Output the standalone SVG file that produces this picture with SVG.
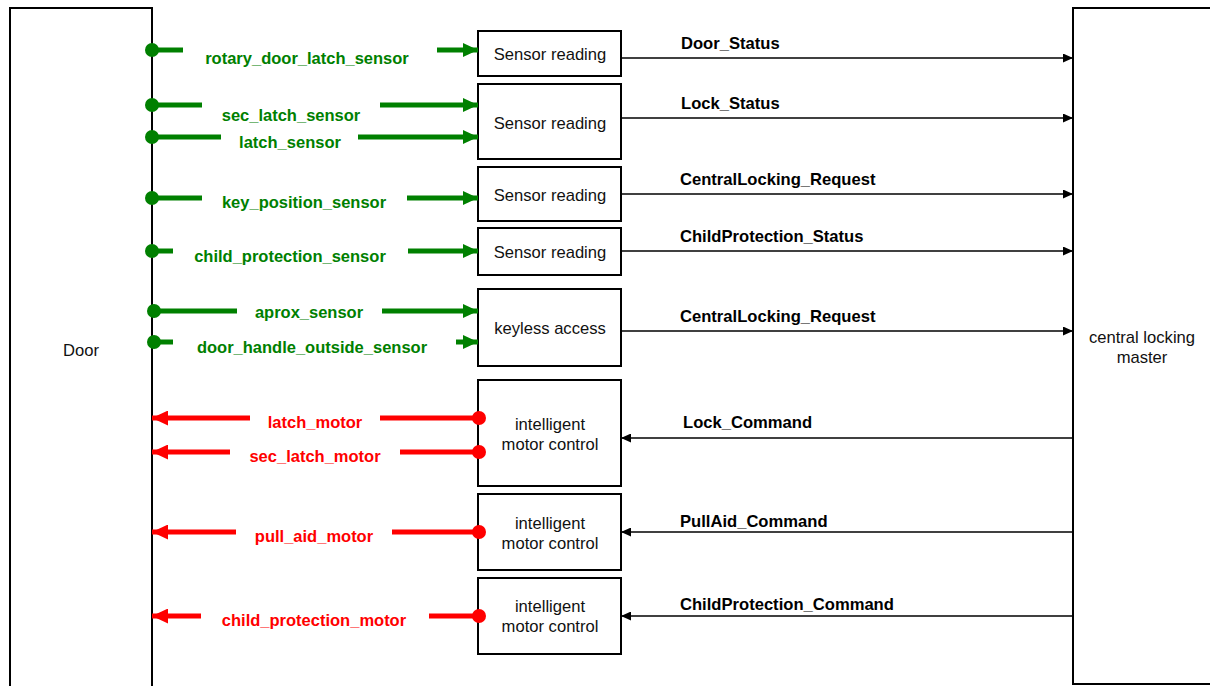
<svg xmlns="http://www.w3.org/2000/svg" width="1210" height="686" viewBox="0 0 1210 686">
<style>
.box{fill:#fff;stroke:#000;stroke-width:2}
.bt{font-family:"Liberation Sans",Arial,sans-serif;font-size:16.6px;fill:#111;text-anchor:middle}
.g{stroke:#008000;stroke-width:5;fill:none}
.r{stroke:#ff0000;stroke-width:5;fill:none}
.k{stroke:#000;stroke-width:1.6;fill:none}
.gl{font-family:"Liberation Sans",Arial,sans-serif;font-size:16.5px;font-weight:bold;fill:#008000;text-anchor:middle}
.rl{font-family:"Liberation Sans",Arial,sans-serif;font-size:16.5px;font-weight:bold;fill:#ff0000;text-anchor:middle}
.kl{font-family:"Liberation Sans",Arial,sans-serif;font-size:16.6px;font-weight:bold;fill:#000}
.gd{fill:#008000}
.rd{fill:#ff0000}
</style>
<defs>
<marker id="ag" markerUnits="userSpaceOnUse" markerWidth="15" markerHeight="14" refX="15" refY="7" orient="auto"><path d="M0,0 L15,7 L0,14 z" fill="#008000"/></marker>
<marker id="ar" markerUnits="userSpaceOnUse" markerWidth="16" markerHeight="15" refX="16" refY="7.5" orient="auto"><path d="M0,0 L16,7.5 L0,15 z" fill="#ff0000"/></marker>
<marker id="ak" markerUnits="userSpaceOnUse" markerWidth="10" markerHeight="9" refX="10" refY="4.5" orient="auto"><path d="M0,0 L10,4.5 L0,9 z" fill="#000"/></marker>
</defs>

<g id="door"><rect class="box" x="10" y="8" width="142" height="690"/><text class="bt" x="81" y="356">Door</text></g>
<g id="master"><rect class="box" x="1073" y="8" width="150" height="676"/><text class="bt" x="1142" y="343">central locking</text><text class="bt" x="1142" y="363">master</text></g>

<g id="sr1"><rect class="box" x="478" y="31" width="143" height="45"/><text class="bt" x="550" y="60">Sensor reading</text></g>
<g id="sr2"><rect class="box" x="478" y="84" width="143" height="75"/><text class="bt" x="550" y="129">Sensor reading</text></g>
<g id="sr3"><rect class="box" x="478" y="167" width="143" height="54"/><text class="bt" x="550" y="201">Sensor reading</text></g>
<g id="sr4"><rect class="box" x="478" y="228" width="143" height="47"/><text class="bt" x="550" y="258">Sensor reading</text></g>
<g id="ka"><rect class="box" x="478" y="289" width="143" height="77"/><text class="bt" x="550" y="334">keyless access</text></g>
<g id="imc1"><rect class="box" x="478" y="380" width="143" height="106"/><text class="bt" x="550" y="430">intelligent</text><text class="bt" x="550" y="450">motor control</text></g>
<g id="imc2"><rect class="box" x="478" y="494" width="143" height="76"/><text class="bt" x="550" y="529">intelligent</text><text class="bt" x="550" y="549">motor control</text></g>
<g id="imc3"><rect class="box" x="478" y="578" width="143" height="76"/><text class="bt" x="550" y="612">intelligent</text><text class="bt" x="550" y="632">motor control</text></g>

<g id="connectors">
<!-- green sensor inputs -->
<circle class="gd" cx="152" cy="50" r="7"/><path class="g" d="M152,50 H183"/><path class="g" d="M437,50 H478" marker-end="url(#ag)"/>
<circle class="gd" cx="152" cy="105" r="7"/><path class="g" d="M152,105 H202"/><path class="g" d="M380,105 H478" marker-end="url(#ag)"/>
<circle class="gd" cx="152" cy="137" r="7"/><path class="g" d="M152,137 H221"/><path class="g" d="M358,137 H478" marker-end="url(#ag)"/>
<circle class="gd" cx="152" cy="198" r="7"/><path class="g" d="M152,198 H202"/><path class="g" d="M407,198 H478" marker-end="url(#ag)"/>
<circle class="gd" cx="152" cy="251" r="7"/><path class="g" d="M152,251 H173"/><path class="g" d="M408,251 H478" marker-end="url(#ag)"/>
<circle class="gd" cx="154" cy="311" r="7"/><path class="g" d="M154,311 H237"/><path class="g" d="M382,311 H478" marker-end="url(#ag)"/>
<circle class="gd" cx="154" cy="342" r="7"/><path class="g" d="M154,342 H173"/><path class="g" d="M456,342 H478" marker-end="url(#ag)"/>
<text class="gl" x="307" y="64">rotary_door_latch_sensor</text>
<text class="gl" x="291" y="121">sec_latch_sensor</text>
<text class="gl" x="290" y="148">latch_sensor</text>
<text class="gl" x="304" y="208">key_position_sensor</text>
<text class="gl" x="290" y="262">child_protection_sensor</text>
<text class="gl" x="309" y="318">aprox_sensor</text>
<text class="gl" x="312" y="353">door_handle_outside_sensor</text>
<!-- red motor outputs -->
<circle class="rd" cx="479" cy="418" r="7"/><path class="r" d="M479,418 H380"/><path class="r" d="M250,418 H152" marker-end="url(#ar)"/>
<circle class="rd" cx="479" cy="452" r="7"/><path class="r" d="M479,452 H400"/><path class="r" d="M230,452 H152" marker-end="url(#ar)"/>
<circle class="rd" cx="479" cy="532" r="7"/><path class="r" d="M479,532 H392"/><path class="r" d="M236,532 H152" marker-end="url(#ar)"/>
<circle class="rd" cx="479" cy="616" r="7"/><path class="r" d="M479,616 H429"/><path class="r" d="M201,616 H152" marker-end="url(#ar)"/>
<text class="rl" x="315" y="428">latch_motor</text>
<text class="rl" x="315" y="462">sec_latch_motor</text>
<text class="rl" x="314" y="542">pull_aid_motor</text>
<text class="rl" x="314" y="626">child_protection_motor</text>
<!-- black signals -->
<path class="k" d="M621,58 H1073" marker-end="url(#ak)"/>
<path class="k" d="M621,118 H1073" marker-end="url(#ak)"/>
<path class="k" d="M621,194 H1073" marker-end="url(#ak)"/>
<path class="k" d="M621,251 H1073" marker-end="url(#ak)"/>
<path class="k" d="M621,331 H1073" marker-end="url(#ak)"/>
<path class="k" d="M1073,438 H621" marker-end="url(#ak)"/>
<path class="k" d="M1073,532 H621" marker-end="url(#ak)"/>
<path class="k" d="M1073,616 H621" marker-end="url(#ak)"/>
<text class="kl" x="681" y="49">Door_Status</text>
<text class="kl" x="681" y="109">Lock_Status</text>
<text class="kl" x="680" y="185">CentralLocking_Request</text>
<text class="kl" x="680" y="242">ChildProtection_Status</text>
<text class="kl" x="680" y="322">CentralLocking_Request</text>
<text class="kl" x="683" y="428">Lock_Command</text>
<text class="kl" x="680" y="527">PullAid_Command</text>
<text class="kl" x="680" y="610">ChildProtection_Command</text>
</g>
</svg>
